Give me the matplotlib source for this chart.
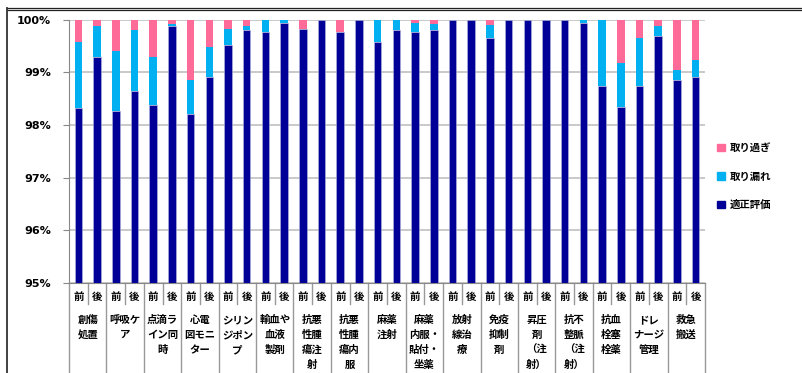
import matplotlib.pyplot as plt
from matplotlib.lines import Line2D
from matplotlib.patches import Patch

plt.rcParams['font.family'] = ['Noto Sans CJK JP', 'DejaVu Sans']

# categories (each one has a 前 / 後 pair of bars)
categories = ["創傷\n処置", "呼吸ケ\nア", "点滴ラ\nイン同\n時", "心電\n図モニ\nター",
              "シリン\nジポン\nプ", "輸血や\n血液\n製剤", "抗悪\n性腫\n瘍注\n射", "抗悪\n性腫\n瘍内\n服",
              "麻薬\n注射", "麻薬\n内服・\n貼付・\n坐薬", "放射\n線治\n療", "免疫\n抑制\n剤",
              "昇圧\n剤\n（注\n射）", "抗不\n整脈\n（注\n射）", "抗血\n栓塞\n栓薬", "ドレ\nナージ\n管理",
              "救急\n搬送"]
phases = ["前", "後"]

# percent of cases, bar order: cat1 前, cat1 後, cat2 前, ...
proper = [98.32, 99.29, 98.26, 98.65, 98.38, 99.87, 98.21, 98.91, 99.52, 99.81,
          99.76, 99.93, 99.82, 100.0, 99.76, 100.0, 99.58, 99.80, 99.76, 99.80,
          100.0, 100.0, 99.64, 100.0, 100.0, 100.0, 100.0, 99.94, 98.74, 98.34,
          98.74, 99.68, 98.86, 98.91]
missed = [1.26, 0.58, 1.14, 1.16, 0.90, 0.05, 0.65, 0.57, 0.30, 0.06,
          0.24, 0.07, 0.00, 0.00, 0.00, 0.00, 0.42, 0.20, 0.18, 0.12,
          0.00, 0.00, 0.25, 0.00, 0.00, 0.00, 0.00, 0.06, 1.26, 0.83,
          0.90, 0.19, 0.18, 0.32]
over = [0.42, 0.13, 0.60, 0.19, 0.72, 0.08, 1.14, 0.52, 0.18, 0.13,
        0.00, 0.00, 0.18, 0.00, 0.24, 0.00, 0.00, 0.00, 0.06, 0.08,
        0.00, 0.00, 0.11, 0.00, 0.00, 0.00, 0.00, 0.00, 0.00, 0.83,
        0.36, 0.13, 0.96, 0.77]

yticks = [95, 96, 97, 98, 99, 100]

c_over = '#ff6b99'
c_missed = '#00b0f0'
c_proper = '#000096'

W, H = 803, 373
fig = plt.figure(figsize=(W / 100, H / 100), dpi=100)
ax_top, ax_bot = 19.5, 283
ax = fig.add_axes([69 / W, (H - ax_bot) / H, (705 - 69) / W, (ax_bot - ax_top) / H])


def ay(py):
    # pixel row -> axes fraction
    return (ax_bot - py) / (ax_bot - ax_top)


x = list(range(len(proper)))
bw = 0.4
ax.bar(x, proper, bw, color=c_proper, edgecolor='#b8b8e0', linewidth=0.4, zorder=3)
b2 = [p for p in proper]
ax.bar(x, missed, bw, bottom=b2, color=c_missed, linewidth=0, zorder=3)
b3 = [p + m for p, m in zip(proper, missed)]
ax.bar(x, over, bw, bottom=b3, color=c_over, linewidth=0, zorder=3)

ax.set_ylim(95, 100)
ax.set_xlim(-0.5, len(proper) - 0.5)
ax.set_yticks(yticks)
ax.set_yticklabels([f"{t}%" for t in yticks], family='DejaVu Sans',
                   fontweight='bold', fontsize=8)
ax.tick_params(axis='y', length=4, pad=9, color='#888888')
ax.set_xticks([])
ax.grid(axis='y', color='#c0c0c0', lw=1.2, zorder=0)
for s in ['top', 'right']:
    ax.spines[s].set_visible(False)
for s in ['left', 'bottom']:
    ax.spines[s].set_color('#888888')

# category table under the axis
tr = ax.get_xaxis_transform()
for k in range(len(proper) + 1):
    low = 372 if k % 2 == 0 else 304
    ax.plot([k - 0.5, k - 0.5], [ay(ax_bot), ay(low)], color='#999999', lw=1,
            transform=tr, clip_on=False)
for i in x:
    ax.text(i, ay(297), phases[i % 2], transform=tr, ha='center', va='center',
            fontsize=7.5, fontweight='bold')
for j, name in enumerate(categories):
    for r, line in enumerate(name.split("\n")):
        ax.text(2 * j + 0.5, ay(320 + 15 * r), line, transform=tr, ha='center',
                va='center', fontsize=7.5, fontweight='bold')

handles = [Patch(color=c_over), Patch(color=c_missed), Patch(color=c_proper)]
ax.legend(handles, ["取り過ぎ", "取り漏れ", "適正評価"], loc='upper left',
          bbox_to_anchor=(708 / W, (H - 134) / H), bbox_transform=fig.transFigure,
          frameon=False, handlelength=0.7, handleheight=0.7, handletextpad=0.5,
          labelspacing=1.75, prop={'size': 7.5, 'weight': 'bold'})

# outer frame
fig.add_artist(Line2D([7 / W, 1], [1 - 8.3 / H] * 2, color='#222222', lw=0.9))
fig.add_artist(Line2D([7 / W, 1], [1 - 10.3 / H] * 2, color='#222222', lw=0.9))
fig.add_artist(Line2D([7 / W] * 2, [0, 1 - 8.3 / H], color='#333333', lw=1.3))

fig.savefig("out.png", dpi=100)
